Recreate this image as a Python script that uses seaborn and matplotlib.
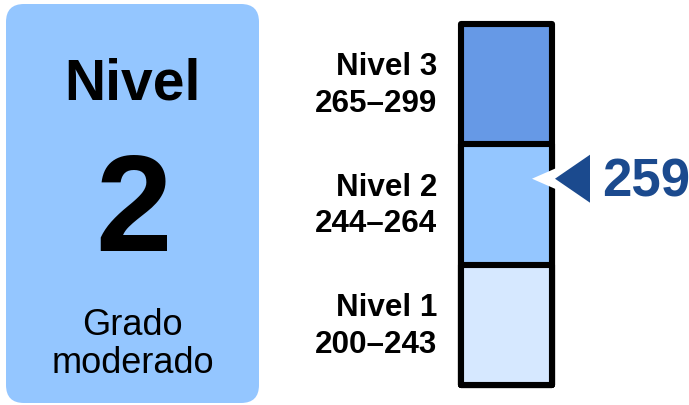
import matplotlib
matplotlib.use("Agg")
import matplotlib.pyplot as plt
import matplotlib.transforms as mtransforms
from matplotlib.patches import FancyBboxPatch, Polygon
import seaborn as sns

# ---- data ----
level_names = ["Nivel 1", "Nivel 2", "Nivel 3"]
range_low = [200, 244, 265]
range_high = [243, 264, 299]
level_colors = ["#d6e8ff", "#94c6ff", "#6699e6"]
score = 259
achieved_level = "2"
achieved_title = "Nivel"
achieved_desc = ["Grado", "moderado"]

sns.set_theme(style="white")
plt.rcParams["font.family"] = ["Liberation Sans", "DejaVu Sans"]

W, H, DPI = 689, 405, 100
fig = plt.figure(figsize=(W / DPI, H / DPI), dpi=DPI)
fig.patch.set_facecolor("white")

# ---- background/layout axes in pixel coordinates ----
bg = fig.add_axes([0, 0, 1, 1])
bg.set_xlim(0, W)
bg.set_ylim(H, 0)
bg.axis("off")

box = FancyBboxPatch((6, 4), 253, 399, boxstyle="round,pad=0,rounding_size=18",
                     facecolor="#94c6ff", edgecolor="none")
bg.add_patch(box)
bg.text(132.5, 100, achieved_title, ha="center", va="baseline",
        fontsize=41, fontweight="bold", color="black")
bg.text(133.5, 251, achieved_level, ha="center", va="baseline",
        fontsize=99, fontweight="bold", color="black")
bg.text(132.5, 335, achieved_desc[0], ha="center", va="baseline",
        fontsize=26, color="black")
bg.text(132.5, 373, achieved_desc[1], ha="center", va="baseline",
        fontsize=26, color="black")

# ---- scale bar axes ----
bx0, bx1, by0, by1 = 461, 552, 24, 385
ax = fig.add_axes([bx0 / W, (H - by1) / H, (bx1 - bx0) / W, (by1 - by0) / H])
ax.patch.set_alpha(0)

n = len(level_names)
# stacked bars: draw cumulative tops from tallest to shortest
for i in reversed(range(n)):
    sns.barplot(x=["scale"], y=[i + 1], color=level_colors[i], saturation=1,
                width=1, edgecolor="black", linewidth=4.4, ax=ax)
for p in ax.patches:
    p.set_joinstyle("round")
    p.set_clip_on(False)
ax.set_xlim(-0.5, 0.5)
ax.set_ylim(0, n)
ax.axis("off")

# level labels
for i in range(n):
    anchor = mtransforms.ScaledTranslation(-0.5, i + 0.5, ax.transData)
    t1 = mtransforms.Affine2D().translate(-24, 9) + anchor
    t2 = mtransforms.Affine2D().translate(-24, -28) + anchor
    ax.text(0, 0, level_names[i], transform=t1, ha="right", va="baseline",
            fontsize=22.6, fontweight="bold", color="black", clip_on=False)
    ax.text(0, 0, f"{range_low[i]}\u2013{range_high[i]}", transform=t2,
            ha="right", va="baseline", fontsize=22.6, fontweight="bold",
            color="black", clip_on=False)

# score marker
li = next(i for i in range(n) if range_low[i] <= score <= range_high[i])
ys = li + (score - range_low[li]) / (range_low[li + 1] - range_low[li] if li + 1 < n else range_high[li] - range_low[li] + 1)
anchor = mtransforms.ScaledTranslation(0.5, ys, ax.transData)
tr = mtransforms.Affine2D() + anchor
white_tri = Polygon([[-20, 0], [12, 14], [12, -14]], closed=True,
                    facecolor="white", edgecolor="none", transform=tr, clip_on=False)
dark_tri = Polygon([[3, 0], [38, 24], [38, -24]], closed=True,
                   facecolor="#1b4a8e", edgecolor="none", transform=tr, clip_on=False)
ax.add_patch(white_tri)
ax.add_patch(dark_tri)
ttr = mtransforms.Affine2D().translate(50, -18) + anchor
ax.text(0, 0, str(score), transform=ttr, ha="left", va="baseline",
        fontsize=38, fontweight="bold", color="#1b4a8e", clip_on=False)

fig.savefig("out.png", dpi=DPI, facecolor="white")
